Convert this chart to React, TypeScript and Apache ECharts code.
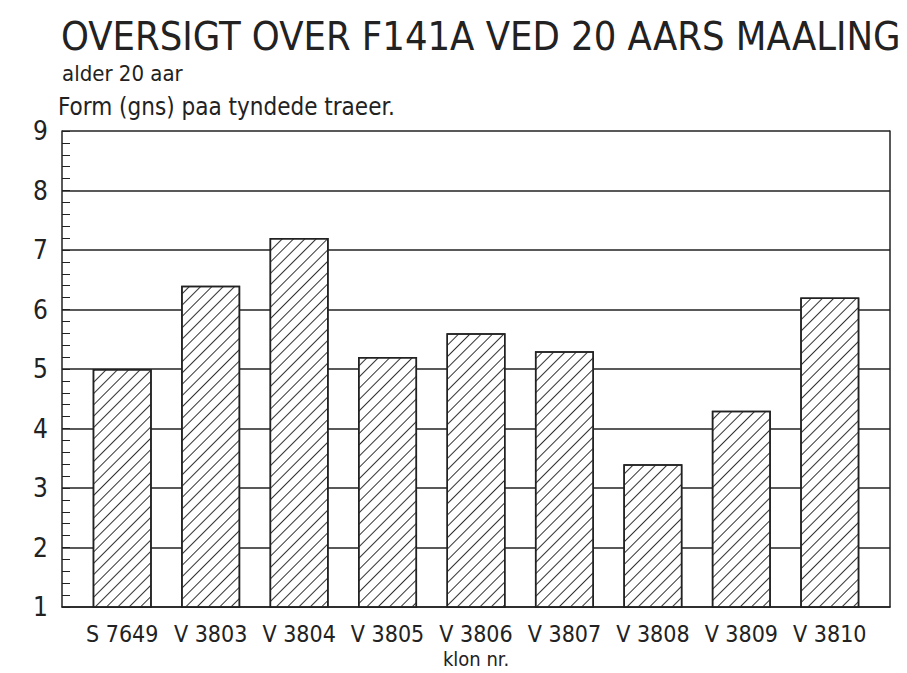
import React, { useEffect, useRef } from "react";
import * as echarts from "echarts";

const categories = ["S 7649", "V 3803", "V 3804", "V 3805", "V 3806", "V 3807", "V 3808", "V 3809", "V 3810"];
const values = [5.0, 6.4, 7.2, 5.2, 5.6, 5.3, 3.4, 4.3, 6.2];
const yMin = 1;
const yMax = 9;
const yInterval = 1;

const titleText = "OVERSIGT OVER F141A VED 20 AARS MAALING";
const subtitleText = "alder 20 aar";
const yName = "Form (gns) paa tyndede traeer.";
const xName = "klon nr.";

const FONT = "'Liberation Sans Narrow', 'DejaVu Sans Condensed', 'Roboto Condensed', 'Liberation Sans', sans-serif";
const INK = "#222";

export default function App() {
  const ref = useRef<HTMLDivElement>(null);
  useEffect(() => {
    if (!ref.current) return;
    const chart = echarts.init(ref.current, null, { renderer: "svg" });
    chart.setOption({
      animation: false,
      backgroundColor: "#fff",
      title: [
        {
          text: titleText,
          left: 56,
          top: 11,
          textStyle: { fontFamily: FONT, fontSize: 39.5, fontWeight: "normal", color: INK },
        },
        {
          text: subtitleText,
          left: 57,
          top: 57,
          textStyle: { fontFamily: FONT, fontSize: 22, fontWeight: "normal", color: INK },
        },
      ],
      grid: [
        { left: 62, right: 17, top: 131, bottom: 66, outerBoundsMode: "none", containLabel: false },
        { left: 78, right: 33, top: 131, bottom: 66, outerBoundsMode: "none", containLabel: false },
      ],
      xAxis: [
        {
          gridIndex: 0,
          type: "value",
          min: 0,
          max: 1,
          axisLine: { show: true, onZero: false, lineStyle: { color: INK, width: 1.5 } },
          axisTick: { show: false },
          axisLabel: { show: false },
          splitLine: { show: false },
          name: xName,
          nameLocation: "middle",
          nameGap: 42,
          nameTextStyle: { fontFamily: FONT, fontSize: 20, color: INK },
        },
        {
          gridIndex: 1,
          type: "category",
          data: categories,
          axisLine: { show: false },
          axisTick: { show: false },
          axisLabel: { fontFamily: FONT, fontSize: 23, color: INK, margin: 15, interval: 0 },
        },
      ],
      yAxis: [
        {
          gridIndex: 0,
          type: "value",
          min: yMin,
          max: yMax,
          interval: yInterval,
          axisLine: { show: true, lineStyle: { color: INK, width: 1.5 } },
          axisTick: { show: true, inside: true, length: 8, lineStyle: { color: INK } },
          minorTick: { show: true, splitNumber: 5, length: 8, lineStyle: { color: INK, width: 1 } },
          splitLine: { show: true, lineStyle: { color: INK, width: 1.5 } },
          axisLabel: { fontFamily: FONT, fontSize: 26, color: INK, margin: 14 },
          name: yName,
          nameLocation: "end",
          nameGap: 12,
          nameTextStyle: { fontFamily: FONT, fontSize: 24, color: INK, align: "left", padding: [0, 0, 0, -4] },
        },
        {
          gridIndex: 0,
          type: "value",
          position: "right",
          min: yMin,
          max: yMax,
          interval: yInterval,
          axisLine: { show: true, lineStyle: { color: INK, width: 1.5 } },
          axisTick: { show: false },
          axisLabel: { show: false },
          splitLine: { show: false },
        },
        {
          gridIndex: 1,
          type: "value",
          min: yMin,
          max: yMax,
          interval: yInterval,
          show: false,
        },
      ],
      series: [
        {
          type: "bar",
          xAxisIndex: 1,
          yAxisIndex: 2,
          data: values,
          barWidth: 59,
          itemStyle: {
            color: "#fff",
            borderColor: INK,
            borderWidth: 1.5,
            decal: {
              symbol: "rect",
              symbolSize: 1,
              dashArrayX: [1, 0],
              dashArrayY: [1, 7],
              rotation: -Math.PI / 4,
              color: "#333",
              backgroundColor: "rgba(0,0,0,0)",
            },
          },
        },
      ],
    });
    return () => chart.dispose();
  }, []);
  return <div ref={ref} style={{ width: 907, height: 673, position: "absolute", left: 0, top: 0 }} />;
}
